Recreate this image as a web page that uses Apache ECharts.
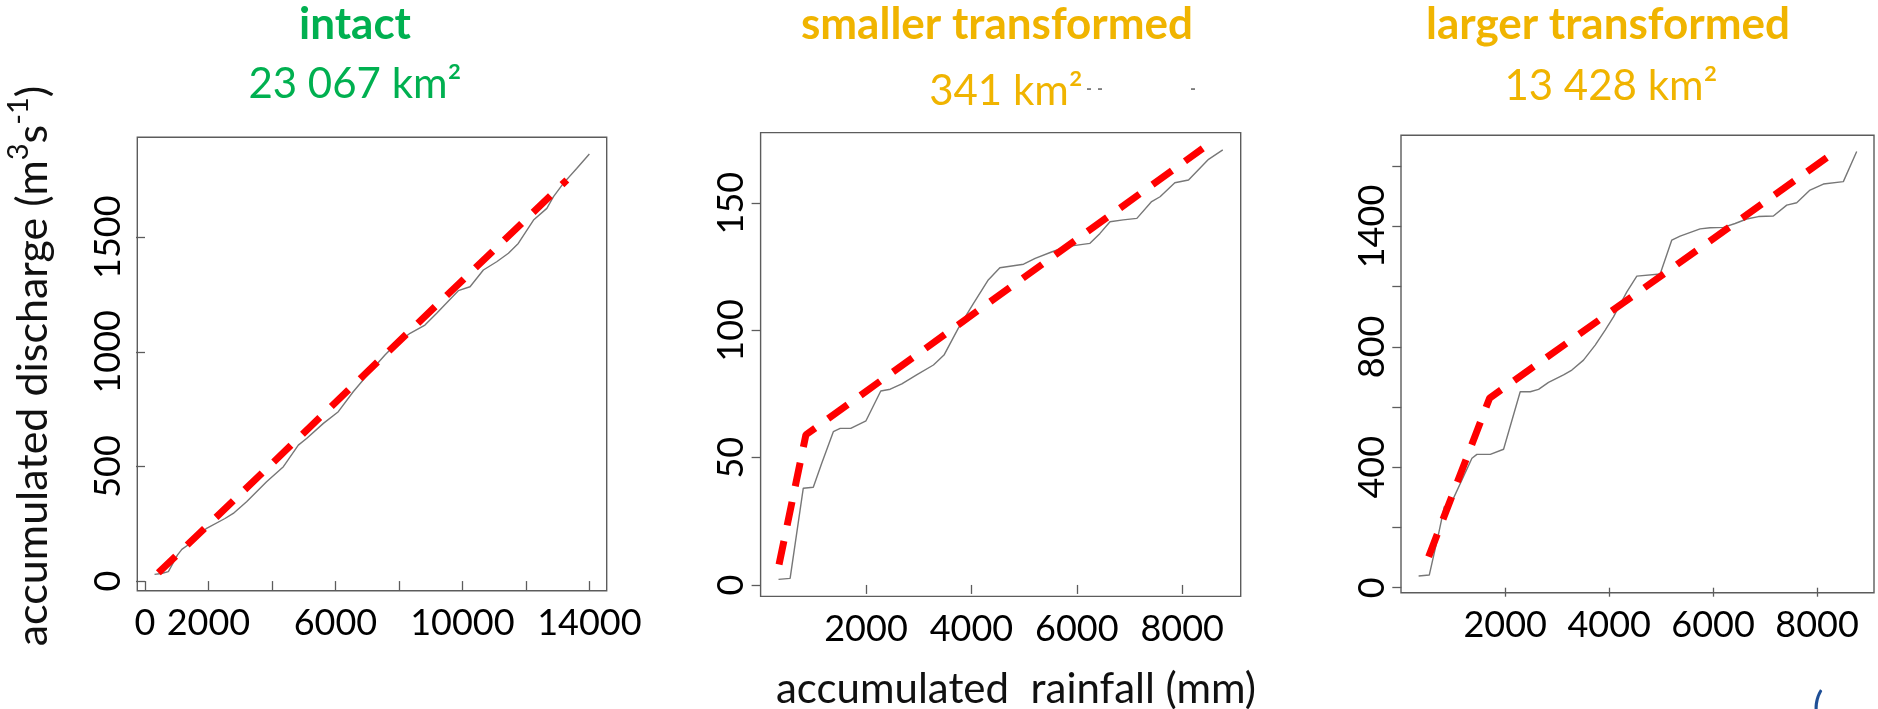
<!DOCTYPE html>
<html>
<head>
<meta charset="utf-8">
<script src="https://cdn.jsdelivr.net/npm/echarts@6/dist/echarts.min.js"></script>
<style>
  html, body { margin: 0; padding: 0; background: #ffffff; }
  #chart { width: 1878px; height: 709px; }
</style>
</head>
<body>
<div id="chart"></div>
<script>
// Panel headings
const panelTitles = ['intact', 'smaller transformed', 'larger transformed'];
const panelAreas = ['23 067 km²', '341 km²', '13 428 km²'];

// Intact catchment: accumulated rainfall (mm) vs accumulated discharge (m3 s-1)
const intactRain = [300, 520, 735, 1020, 1160, 1420, 1940, 2520, 2780, 3200, 3830, 4360, 4830, 5090, 5620, 6090, 6560, 7090, 7560, 7930, 8350, 8820, 9190, 9870, 10240, 10660, 11080, 11450, 11760, 12240, 12660, 12870, 13180, 13600, 14000];
const intactFlow = [29, 33, 41, 113, 138, 164, 230, 273, 295, 346, 433, 499, 593, 622, 688, 739, 826, 913, 986, 1037, 1081, 1117, 1168, 1267, 1284, 1357, 1393, 1430, 1473, 1575, 1626, 1677, 1735, 1800, 1863];
const intactFitRain = [420, 13290];
const intactFitFlow = [36, 1750];

// Smaller transformed catchment
const smallerRain = [340, 560, 810, 1000, 1160, 1380, 1510, 1710, 2000, 2280, 2460, 2680, 2960, 3280, 3480, 3750, 4040, 4320, 4540, 4990, 5210, 5520, 5800, 6250, 6440, 6630, 6880, 7140, 7420, 7580, 7860, 8120, 8500, 8770];
const smallerFlow = [2.2, 2.6, 38, 38.4, 47.8, 60.2, 61.5, 61.5, 64.5, 76.2, 76.9, 79, 82.5, 86.4, 90.3, 100.8, 110.6, 119.8, 124.6, 126, 128.3, 130.8, 132.9, 134.2, 138.1, 142.7, 143.4, 144, 150.6, 152.5, 158, 159.1, 167.2, 170.9];
const smallerFitRain = [350, 860, 8390];
const smallerFitFlow = [8, 59, 171.5];

// Larger transformed catchment
const largerRain = [333, 538, 718, 827, 974, 1359, 1455, 1712, 1968, 2288, 2481, 2641, 2833, 3122, 3282, 3506, 3731, 3923, 4083, 4340, 4532, 4981, 5205, 5365, 5750, 5942, 6199, 6423, 6647, 6872, 7160, 7417, 7609, 7865, 8122, 8506, 8763];
const largerFlow = [39, 42, 180, 269, 286, 430, 443, 443, 460, 651, 651, 659, 682, 707, 723, 756, 806, 856, 900, 983, 1035, 1042, 1155, 1168, 1192, 1196, 1197, 1210, 1225, 1233, 1235, 1271, 1279, 1321, 1341, 1349, 1449];
const largerFitRain = [526, 1700, 8410];
const largerFitFlow = [103, 630, 1456];

// Axis ticks and tick labels
const intactXTicks = [0, 2000, 4000, 6000, 8000, 10000, 12000, 14000];
const intactXLabels = [0, 2000, 6000, 10000, 14000];
const intactYTicks = [0, 500, 1000, 1500];
const smallerXTicks = [2000, 4000, 6000, 8000];
const smallerYTicks = [0, 50, 100, 150];
const largerXTicks = [2000, 4000, 6000, 8000];
const largerYTicks = [0, 200, 400, 600, 800, 1000, 1200, 1400];
const largerYLabelTicks = [0, 400, 800, 1200];
const largerYLabelText = ['0', '400', '800', '1400'];

const yAxisTitle = 'accumulated discharge';
const xAxisTitle = 'accumulated  rainfall (mm)';

const GREEN = '#00b050';
const GOLD = '#f0b400';
const FRAME = '#5c5c5c';
const FONT = 'Lato, "Open Sans", sans-serif';

const zip = (xs, ys) => xs.map((x, i) => [x, ys[i]]);
const plain = v => String(v);

const panels = [
  { rain: intactRain, flow: intactFlow, fitRain: intactFitRain, fitFlow: intactFitFlow,
    grid: { left: 137.3, top: 137.3, width: 469.4, height: 453.4 },
    x: { min: -243, max: 14546, ticks: intactXTicks, labels: intactXLabels },
    y: { min: -42, max: 1936, ticks: intactYTicks, labels: intactYTicks } },
  { rain: smallerRain, flow: smallerFlow, fitRain: smallerFitRain, fitFlow: smallerFitFlow,
    grid: { left: 760.6, top: 132.6, width: 480.1, height: 463.8 },
    x: { min: 0, max: 9110, ticks: smallerXTicks, labels: smallerXTicks },
    y: { min: -4.5, max: 177.7, ticks: smallerYTicks, labels: smallerYTicks } },
  { rain: largerRain, flow: largerFlow, fitRain: largerFitRain, fitFlow: largerFitFlow,
    grid: { left: 1401, top: 135.3, width: 473, height: 457.4 },
    x: { min: -6, max: 9096, ticks: largerXTicks, labels: largerXTicks },
    y: { min: -16.6, max: 1503, ticks: largerYTicks, labels: largerYLabelTicks,
         formatter: v => largerYLabelText[largerYLabelTicks.indexOf(v)] } }
];

const tickStyle = { color: FRAME, width: 1.3 };
const labelStyle = { fontFamily: FONT, fontSize: 36, color: '#000000' };

const grids = panels.map(p => Object.assign({
  show: true, borderColor: FRAME, borderWidth: 1.4, backgroundColor: 'transparent',
  outerBoundsMode: 'none', containLabel: false
}, p.grid));

const xAxes = panels.map((p, i) => ({
  type: 'value', gridIndex: i, min: p.x.min, max: p.x.max,
  axisLine: { show: false },
  splitLine: { show: false },
  axisTick: { show: true, length: 9, lineStyle: tickStyle, customValues: p.x.ticks },
  axisLabel: Object.assign({ customValues: p.x.labels, margin: 15, formatter: plain }, labelStyle)
}));

const yAxes = panels.map((p, i) => ({
  type: 'value', gridIndex: i, min: p.y.min, max: p.y.max,
  axisLine: { show: false },
  splitLine: { show: false },
  axisTick: { show: true, length: 9, lineStyle: tickStyle, customValues: p.y.ticks },
  axisLabel: Object.assign({ customValues: p.y.labels, margin: 11, rotate: 90,
    formatter: p.y.formatter || plain }, labelStyle)
}));

const series = [];
panels.forEach((p, i) => {
  series.push({
    type: 'line', xAxisIndex: i, yAxisIndex: i, data: zip(p.rain, p.flow),
    showSymbol: false, silent: true, z: 2,
    lineStyle: { color: '#777777', width: 1.4 }
  });
  series.push({
    type: 'line', xAxisIndex: i, yAxisIndex: i, data: zip(p.fitRain, p.fitFlow),
    showSymbol: false, silent: true, z: 3,
    lineStyle: { color: '#ff0000', width: 7, type: [24, 16], cap: 'butt' }
  });
});

// Panel headings, axis titles
const titleColors = [GREEN, GOLD, GOLD];
const titleX = [355, 997, 1608];
const areaX = [355, 1006, 1611];
const areaY = [84, 91, 86];
const graphic = [];
panelTitles.forEach((t, i) => {
  graphic.push({ type: 'text', x: titleX[i], y: 25, silent: true,
    style: { text: t, fill: titleColors[i], fontFamily: FONT, fontWeight: 'bold', fontSize: 44,
             align: 'center', verticalAlign: 'middle' } });
  graphic.push({ type: 'text', x: areaX[i], y: areaY[i], silent: true,
    style: { text: panelAreas[i], fill: titleColors[i], fontFamily: FONT, fontSize: 42,
             align: 'center', verticalAlign: 'middle' } });
});
graphic.push({ type: 'text', x: 33, y: 366, rotation: Math.PI / 2, silent: true,
  style: {
    text: '{a|' + yAxisTitle + ' (m}{s|3}{a|s}{s|-1}{a|)}',
    align: 'center', verticalAlign: 'middle',
    rich: {
      a: { fontFamily: FONT, fontSize: 43, fill: '#111111', verticalAlign: 'middle' },
      s: { fontFamily: FONT, fontSize: 29, fill: '#111111', verticalAlign: 'middle', padding: [0, 0, 28, 0] }
    }
  } });
graphic.push({ type: 'text', x: 1016, y: 689, silent: true,
  style: { text: xAxisTitle, fill: '#111111', fontFamily: FONT, fontSize: 42,
           align: 'center', verticalAlign: 'middle' } });
// faint stray marks beside the second heading and the clipped glyph in the corner
[[1089, 89], [1100, 89], [1193, 89]].forEach(([x, y]) => {
  graphic.push({ type: 'rect', silent: true, shape: { x: x - 2, y: y - 0.6, width: 4, height: 1.3 },
    style: { fill: '#444444' } });
});
graphic.push({ type: 'text', x: 1818, y: 708, silent: true,
  style: { text: '(', fill: '#1f4f96', fontFamily: FONT, fontSize: 40, align: 'center', verticalAlign: 'middle' } });

const chart = echarts.init(document.getElementById('chart'), null, { renderer: 'canvas' });
chart.setOption({
  animation: false,
  backgroundColor: '#ffffff',
  grid: grids,
  xAxis: xAxes,
  yAxis: yAxes,
  series: series,
  graphic: graphic
});
</script>
</body>
</html>
